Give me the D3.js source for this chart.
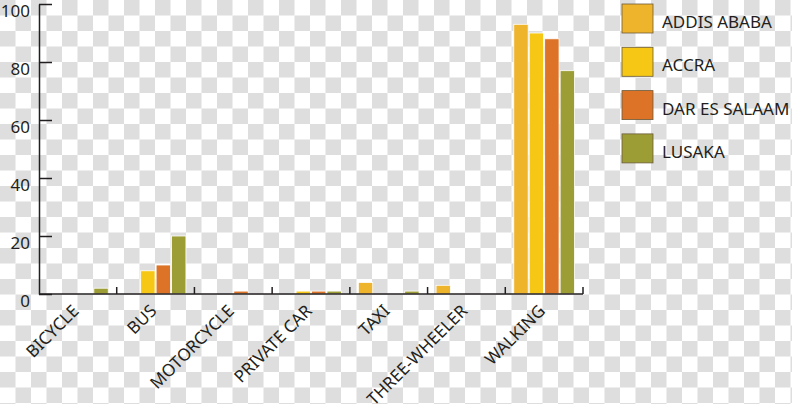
<!DOCTYPE html>
<html lang="en">
<head>
<meta charset="utf-8">
<title></title>
<script src="https://d3js.org/d3.v7.min.js"></script>
<style>
  body { margin: 0; }
  text { font-family: "Noto Sans", sans-serif; fill: #231f20; }
  .axis path, .axis line { stroke: #231f20; stroke-width: 1.5px; }
</style>
</head>
<body>
<script type="text/javascript">
// categories (modes) and cities
var modes = ["BICYCLE", "BUS", "MOTORCYCLE", "PRIVATE CAR", "TAXI", "THREE-WHEELER", "WALKING"];
var cities = ["ADDIS ABABA", "ACCRA", "DAR ES SALAAM", "LUSAKA"];
var cityColors = ["#eeb42b", "#f6c815", "#dc7327", "#9c9d35"];

// share of trips per mode, one array per city
var addisAbaba = [0, 0, 0, 0, 4, 3, 93];
var accra = [0, 8, 0, 1, 0, 0, 90];
var darEsSalaam = [0, 10, 1, 1, 0, 0, 88];
var lusaka = [2, 20, 0, 1, 1, 0, 77];

var yTicks = [0, 20, 40, 60, 80, 100];

var W = 792, H = 404;
var margin = {top: 4, left: 39, right: 209, bottom: 110};
var series = [addisAbaba, accra, darEsSalaam, lusaka];

var svg = d3.select("body").append("svg")
  .attr("width", W)
  .attr("height", H);

// transparent-background checkerboard, as in the picture
var defs = svg.append("defs");
var pat = defs.append("pattern")
  .attr("id", "checker")
  .attr("patternUnits", "userSpaceOnUse")
  .attr("width", 31).attr("height", 31);
pat.append("rect").attr("width", 31).attr("height", 31).attr("fill", "#ffffff");
pat.append("rect").attr("width", 15.5).attr("height", 15.5).attr("fill", "#dedede");
pat.append("rect").attr("x", 15.5).attr("y", 15.5).attr("width", 15.5).attr("height", 15.5).attr("fill", "#dedede");
svg.append("rect").attr("width", W).attr("height", H).attr("fill", "url(#checker)");

var x0 = d3.scaleBand()
  .domain(modes)
  .range([margin.left, W - margin.right])
  .padding(0);

var x1 = d3.scaleBand()
  .domain(d3.range(cities.length))
  .range([8.5, x0.bandwidth() - 8.5])
  .paddingInner(0.07);

var y = d3.scaleLinear()
  .domain([0, 100])
  .range([H - margin.bottom, margin.top]);

// bars
var groups = svg.selectAll(".group")
  .data(modes)
  .enter().append("g")
  .attr("class", "group")
  .attr("transform", function(d) { return "translate(" + x0(d) + ",0)"; });

groups.selectAll("rect")
  .data(function(d, i) {
    return series.map(function(s, k) { return {k: k, v: s[i]}; }).filter(function(e) { return e.v > 0; });
  })
  .enter().append("rect")
  .attr("x", function(d) { return x1(d.k); })
  .attr("width", x1.bandwidth())
  .attr("y", function(d) { return y(d.v); })
  .attr("height", function(d) { return y(0) - y(d.v); })
  .attr("fill", function(d) { return cityColors[d.k]; })
  .attr("stroke", "#ffffff")
  .attr("stroke-width", 0.8);

// y axis, ticks pointing inwards
var yAxis = svg.append("g")
  .attr("class", "axis")
  .attr("transform", "translate(" + margin.left + ",0)")
  .call(d3.axisLeft(y).tickValues(yTicks).tickSizeInner(-13).tickSizeOuter(0).tickPadding(9));
yAxis.selectAll("text")
  .attr("dy", "0.72em")
  .style("font-size", "17px")
  .style("font-family", "'Noto Sans', sans-serif")
  .attr("fill", "#231f20");

// x axis: baseline plus short ticks at the group boundaries
var xAxis = svg.append("g").attr("class", "axis");
xAxis.append("line")
  .attr("x1", margin.left).attr("x2", W - margin.right)
  .attr("y1", y(0)).attr("y2", y(0));
xAxis.selectAll(".sep")
  .data(modes)
  .enter().append("line")
  .attr("class", "sep")
  .attr("x1", function(d) { return x0(d) + x0.bandwidth(); })
  .attr("x2", function(d) { return x0(d) + x0.bandwidth(); })
  .attr("y1", y(0)).attr("y2", y(0) - 7);

svg.selectAll(".xlabel")
  .data(modes)
  .enter().append("text")
  .attr("class", "xlabel")
  .attr("text-anchor", "end")
  .style("font-size", "17px")
  .attr("transform", function(d) {
    return "translate(" + (x0(d) + x0.bandwidth() / 2 + 2) + "," + (y(0) + 18) + ") rotate(-45)";
  })
  .text(function(d) { return d; });

// legend
var legend = svg.selectAll(".legend")
  .data(cities)
  .enter().append("g")
  .attr("class", "legend")
  .attr("transform", function(d, i) { return "translate(622," + (4 + i * 43.3) + ")"; });

legend.append("rect")
  .attr("width", 31).attr("height", 29)
  .attr("fill", function(d, i) { return cityColors[i]; })
  .attr("stroke", "#6b5a3a")
  .attr("stroke-width", 0.8);

legend.append("text")
  .attr("x", 40)
  .attr("y", 24)
  .style("font-size", "17px")
  .text(function(d) { return d; });
</script>
</body>
</html>
